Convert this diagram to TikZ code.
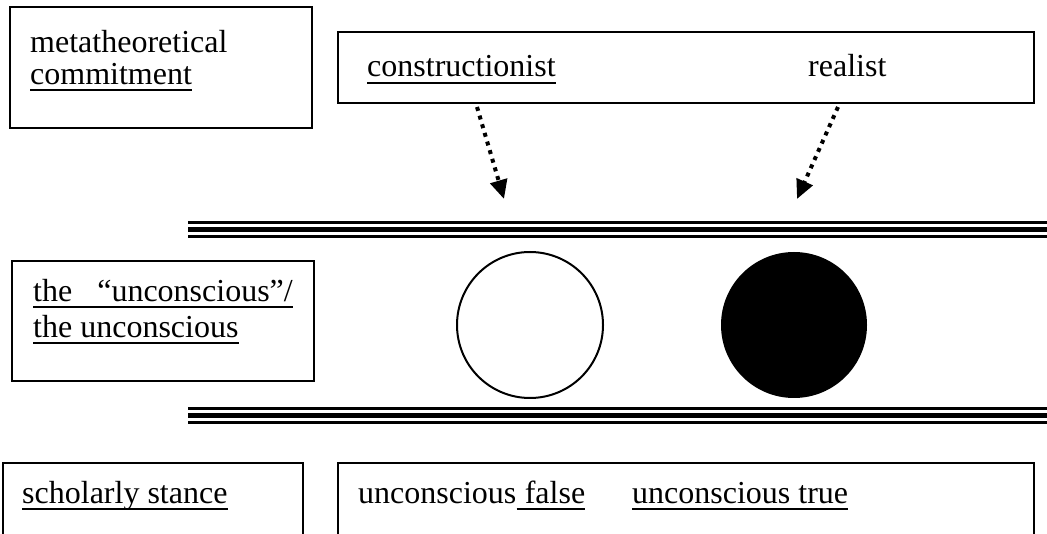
\documentclass[tikz,border=0pt]{standalone}
\usepackage{fontspec}
\setmainfont{Liberation Serif}
\usetikzlibrary{arrows.meta}
\begin{document}
\begin{tikzpicture}[x=1pt,y=-1pt,
  frame/.style={draw,line width=2pt},
  txt/.style={inner sep=0pt,anchor=base west,font=\fontsize{32}{36}\selectfont},
  ul/.style={line width=2pt},
  thinrule/.style={line width=2.5pt},
  thickrule/.style={line width=5.5pt},
  dotarrow/.style={line width=4pt,dash pattern=on 4pt off 5pt,
    -{Triangle[length=19pt,width=17pt]}},
  disc/.style={circle,minimum size=146pt,inner sep=0pt}]
\clip (0,0) rectangle (1047,534);
\fill[white] (0,0) rectangle (1047,534);

% boxes
\draw[frame] (10,7) rectangle (312,128);
\draw[frame] (338,32) rectangle (1034,103);
\draw[frame] (12,261) rectangle (314,381);
\draw[frame] (2.5,463) rectangle (303,560);
\draw[frame] (338,463) rectangle (1034,560);

% box texts
\node[txt] (meta) at (30,53) {metatheoretical};
\node[txt] (commit) at (30,85) {commitment};
\draw[ul] ([yshift=-5pt]commit.base west) -- ([yshift=-5pt]commit.base east);

\node[txt] (constr) at (367,77) {constructionist};
\draw[ul] ([yshift=-6pt]constr.base west) -- ([yshift=-6pt]constr.base east);
\node[txt] (real) at (808,77) {realist};

\node[txt] (the) at (33,302) {the};
\node[txt,anchor=base east] (quoted) at (293,302) {“unconscious”/};
\draw[ul] ([yshift=-5pt]the.base west) -- ([yshift=-5pt]quoted.base east);
\node[txt] (theu) at (33,338) {the unconscious};
\draw[ul] ([yshift=-5pt]theu.base west) -- ([yshift=-5pt]theu.base east);

\node[txt] (stance) at (22,503) {scholarly stance};
\draw[ul] ([yshift=-6pt]stance.base west) -- ([yshift=-6pt]stance.base east);

\node[txt] (uncf) at (358,503) {unconscious};
\node[txt] (false) at ([xshift=8pt]uncf.base east) {false};
\draw[ul] ([yshift=-6pt]uncf.base east) -- ([yshift=-6pt]false.base east);
\node[txt] (unct) at (632,503) {unconscious true};
\draw[ul] ([yshift=-6pt]unct.base west) -- ([yshift=-6pt]unct.base east);

% triple rules
\foreach \y in {229.5,415.5}{
  \draw[thinrule] (188,\y-7) -- (1047,\y-7);
  \draw[thickrule] (188,\y) -- (1047,\y);
  \draw[thinrule] (188,\y+7) -- (1047,\y+7);
}

% discs
\node[disc,draw,line width=2pt] (open) at (530,325) {};
\node[disc,fill=black] (solid) at (794,325) {};

% dotted arrows
\coordinate (c1) at (477,107);
\coordinate (t1) at (504,199);
\coordinate (c2) at (838,107);
\coordinate (t2) at (797,199);
\draw[dotarrow] (c1) -- (t1);
\draw[dotarrow] (c2) -- (t2);
\end{tikzpicture}
\end{document}
